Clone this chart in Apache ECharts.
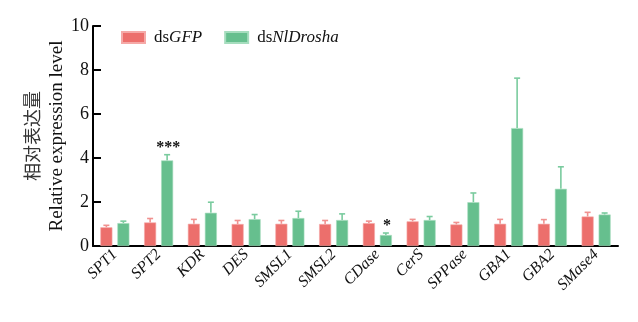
<!DOCTYPE html>
<html>
<head>
<meta charset="utf-8">
<script src="https://cdn.jsdelivr.net/npm/echarts@6/dist/echarts.min.js"></script>
<style>
html,body{margin:0;padding:0;background:#fff;}
#chart{width:638px;height:322px;}
</style>
</head>
<body>
<div id="chart"></div>
<script>
const categories = ['SPT1','SPT2','KDR','DES','SMSL1','SMSL2','CDase','CerS','SPPase','GBA1','GBA2','SMase4'];
const gfpMean = [0.85,1.07,1.01,1.00,1.01,1.00,1.04,1.12,0.98,1.01,1.01,1.34];
const gfpErr = [0.09,0.18,0.20,0.16,0.15,0.16,0.09,0.09,0.09,0.20,0.19,0.19];
const droshaMean = [1.04,3.89,1.51,1.22,1.27,1.18,0.50,1.18,1.99,5.36,2.60,1.43];
const droshaErr = [0.09,0.26,0.48,0.21,0.31,0.28,0.09,0.16,0.42,2.27,1.00,0.07];
const significance = ['','***','','','','','*','','','','',''];
const yTicks = [0,2,4,6,8,10];

const RED = '#EC6F6C', GREEN = '#66BF8E';
const RED_ERR = '#F0918F', GREEN_ERR = '#7ACB9E';
const SERIF = '"Liberation Serif", "DejaVu Serif", serif';
const BAR_W = 12, BAR_GAP = 5;

function errSeries(name, means, errs, color, side, sigs) {
  const data = means.map((m, i) => [i, m + errs[i], m, sigs ? sigs[i] : '']);
  return {
    type: 'custom',
    name: name + '_err',
    data: data,
    z: 1,
    silent: true,
    renderItem: function (params, api) {
      const idx = api.value(0);
      const top = api.coord([idx, api.value(1)]);
      const base = api.coord([idx, api.value(2)]);
      const x = top[0] + side * (BAR_W + BAR_GAP) / 2;
      const children = [
        {type: 'line', shape: {x1: x, y1: base[1], x2: x, y2: top[1]}, style: {stroke: color, lineWidth: 1.6}},
        {type: 'line', shape: {x1: x - 3, y1: top[1], x2: x + 3, y2: top[1]}, style: {stroke: color, lineWidth: 1.6}}
      ];
      const s = data[params.dataIndex][3];
      if (s) {
        children.push({type: 'text', x: x + 1, y: top[1] - 7, style: {text: s, fill: '#111', font: 'bold 16px "Liberation Serif", serif', align: 'center', verticalAlign: 'middle'}});
      }
      return {type: 'group', children: children};
    }
  };
}

const chart = echarts.init(document.getElementById('chart'), null, {renderer: 'canvas'});
chart.setOption({
  animation: false,
  backgroundColor: '#fff',
  textStyle: {fontFamily: SERIF},
  grid: {left: 93, right: 20, top: 26, bottom: 76, containLabel: false},
  legend: {
    left: 116, top: 24,
    itemWidth: 23, itemHeight: 11, itemGap: 22,
    icon: 'rect',
    data: ['dsGFP', 'dsNlDrosha'],
    formatter: function (n) { return '{a|ds}{b|' + n.slice(2) + '}'; },
    textStyle: {
      fontFamily: SERIF,
      padding: [0, 0, 0, 4],
      rich: {
        a: {fontFamily: SERIF, fontSize: 17, color: '#111'},
        b: {fontFamily: SERIF, fontSize: 17, fontStyle: 'italic', color: '#111'}
      }
    }
  },
  xAxis: {
    type: 'category',
    data: categories,
    axisLine: {lineStyle: {color: '#000', width: 2}},
    axisTick: {alignWithLabel: true, inside: true, length: 9, lineStyle: {color: '#000', width: 2.5}},
    axisLabel: {rotate: 45, margin: 6, fontFamily: SERIF, fontStyle: 'italic', fontSize: 16, color: '#111', interval: 0}
  },
  yAxis: {
    type: 'value',
    min: yTicks[0], max: yTicks[yTicks.length - 1], interval: 2,
    axisLine: {show: true, lineStyle: {color: '#000', width: 2}},
    axisTick: {show: true, inside: true, length: 8, lineStyle: {color: '#000', width: 2}},
    splitLine: {show: false},
    axisLabel: {fontFamily: SERIF, fontSize: 18, color: '#111', margin: 4},
    name: '{cn|相对表达量}\n{en|Relative expression level}',
    nameLocation: 'middle',
    nameGap: 23,
    nameMoveOverlap: false,
    nameRotate: 90,
    nameTextStyle: {
      rich: {
        cn: {fontFamily: '"Noto Sans CJK SC"', fontSize: 18, color: '#333', lineHeight: 25},
        en: {fontFamily: SERIF, fontSize: 19, color: '#111', lineHeight: 25}
      }
    }
  },
  series: [
    {type: 'bar', name: 'dsGFP', data: gfpMean, barWidth: BAR_W, barGap: (BAR_GAP / BAR_W * 100) + '%', itemStyle: {color: RED, borderColor: '#F5A9A7', borderWidth: 0.6}, z: 2},
    {type: 'bar', name: 'dsNlDrosha', data: droshaMean, barWidth: BAR_W, itemStyle: {color: GREEN, borderColor: '#A6DDBE', borderWidth: 0.6}, z: 2},
    errSeries('dsGFP', gfpMean, gfpErr, RED_ERR, -1, null),
    errSeries('dsNlDrosha', droshaMean, droshaErr, GREEN_ERR, 1, significance)
  ]
});
</script>
</body>
</html>
